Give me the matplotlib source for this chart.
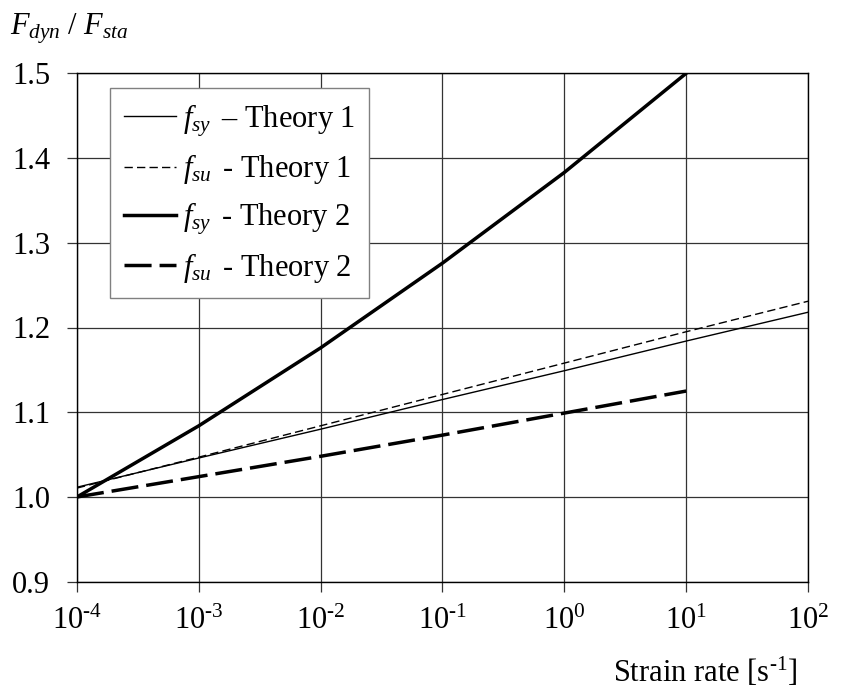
import numpy as np
import matplotlib
matplotlib.use('Agg')
import matplotlib.pyplot as plt

plt.rcParams['font.family'] = ['Liberation Serif', 'DejaVu Serif']
plt.rcParams['mathtext.fontset'] = 'custom'
plt.rcParams['mathtext.rm'] = 'Liberation Serif'
plt.rcParams['mathtext.it'] = 'Liberation Serif:italic'
plt.rcParams['mathtext.bf'] = 'Liberation Serif:bold'
plt.rcParams['font.size'] = 22

# strain rates (decades)
rate_t1 = [1e-4, 1e-3, 1e-2, 1e-1, 1e0, 1e1, 1e2]
rate_t2 = [1e-4, 1e-3, 1e-2, 1e-1, 1e0, 1e1]

# dynamic increase factors
fsy_t1 = [1.0115, 1.046, 1.080, 1.115, 1.149, 1.184, 1.218]
fsu_t1 = [1.0105, 1.047, 1.084, 1.121, 1.158, 1.195, 1.231]
fsy_t2 = [1.0, 1.084, 1.176, 1.276, 1.383, 1.5]
fsu_t2 = [1.0, 1.024, 1.048, 1.073, 1.099, 1.125]

labels = [r'$f_{sy}\,$ – Theory 1', r'$f_{su}\,$ - Theory 1',
          r'$f_{sy}\,$ - Theory 2', r'$f_{su}\,$ - Theory 2']
xticks = [1e-4, 1e-3, 1e-2, 1e-1, 1e0, 1e1, 1e2]
exps = ['-4', '-3', '-2', '-1', '0', '1', '2']
xticklabels = [r'$\mathregular{10^{\text{%s}}}$' % e for e in exps]
yticks = [0.9, 1.0, 1.1, 1.2, 1.3, 1.4, 1.5]

fig = plt.figure(figsize=(8.41, 6.90), dpi=100)
ax = fig.add_axes([77 / 841, 1 - 581.7 / 690, 731 / 841, 508.4 / 690])

ax.plot(rate_t1, fsy_t1, color='black', lw=1.0, label=labels[0])
ax.plot(rate_t1, fsu_t1, color='black', lw=1.0, dashes=(6, 3), label=labels[1])
ax.plot(rate_t2, fsy_t2, color='black', lw=2.5, label=labels[2])
ax.plot(rate_t2, fsu_t2, color='black', lw=2.5, dashes=(7.8, 2.3), label=labels[3])

ax.set_xscale('log')
ax.set_xlim(1e-4, 1e2)
ax.set_ylim(0.9, 1.5)
ax.set_xticks(xticks)
ax.set_xticklabels(xticklabels)
ax.minorticks_off()
ax.set_yticks(yticks)
ax.set_yticklabels([f'{v:.1f}' for v in yticks])
ax.tick_params(direction='out', length=7.2, width=0.9, color='#333333', pad=11)
ax.tick_params(axis='y', pad=12)
ax.grid(True, color='#333333', lw=0.9)
ax.set_axisbelow(True)
for sp in ax.spines.values():
    sp.set_linewidth(1.0)
    sp.set_color('black')

leg = ax.legend(loc='upper left', bbox_to_anchor=(33 / 731, (581.7 - 88.3) / 508.4),
                borderaxespad=0, fancybox=False, framealpha=1, edgecolor='#808080',
                handlelength=1.7, handletextpad=0.25, labelspacing=0.45, borderpad=0.45)
leg.get_frame().set_linewidth(1.0)

fig.text(10 / 841, 1 - 35 / 690, r'$F_{dyn}\ /\ F_{sta}$', ha='left', va='baseline')
fig.text(798 / 841, 1 - 682 / 690, r'Strain rate [s$^{\mathregular{\text{-1}}}$]',
         ha='right', va='baseline')

fig.savefig('out.png', dpi=100)
